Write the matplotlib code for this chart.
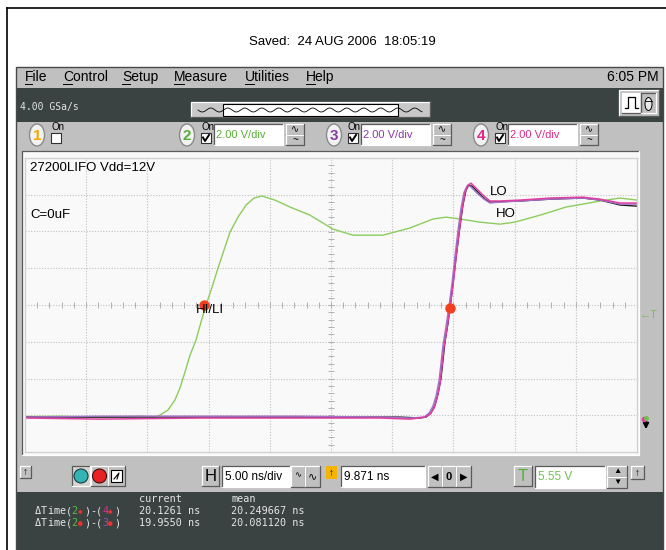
import numpy as np
import matplotlib.pyplot as plt
from matplotlib.patches import Rectangle, Ellipse, Circle

plt.rcParams['font.family'] = ['Liberation Sans', 'DejaVu Sans']
MONO = ['DejaVu Sans Mono', 'DejaVu Sans']

# waveforms: time in ns from left edge of screen (5 ns/div), volts (2 V/div)
hili_t = [0, 2.9, 6.1, 9.4, 10.6, 11.03, 11.68, 12.25, 12.66, 13.07, 13.48, 13.97, 14.38,
          14.79, 15.28, 15.77, 16.26, 16.75, 17.40, 18.06, 18.71, 19.36, 20.42, 21.65,
          23.28, 25.16, 26.80, 29.25, 31.45, 33.33, 34.40, 35.54, 37.17, 38.81, 40.03,
          42.08, 44.20, 46.98, 48.61, 50.0]
hili_v = [0.03, 0.05, -0.02, 0.05, 0.0, 0.11, 0.38, 0.93, 1.58, 2.45, 3.37, 4.19, 5.17,
          6.10, 7.07, 8.11, 9.09, 10.07, 10.88, 11.54, 11.92, 12.03, 11.81, 11.43,
          10.99, 10.23, 9.90, 9.90, 10.29, 10.78, 10.88, 10.78, 10.61, 10.50, 10.61,
          10.99, 11.43, 11.76, 11.92, 11.81]

ref_t = [0, 6.13, 14.30, 22.47, 30.64, 32.27, 32.76, 33.17, 33.50, 33.74, 33.99, 34.15,
         34.31, 34.56, 34.80, 35.05, 35.29, 35.54, 35.78, 36.03, 36.27, 36.52, 37.01,
         37.58, 37.99, 40.44, 42.89, 45.59, 46.98, 48.61, 50.0]
ref_v = [0, 0, 0, 0, 0, -0.05, 0, 0.22, 0.65, 1.25, 2.12, 3.10, 4.08, 5.12, 6.37, 7.73,
         9.09, 10.39, 11.54, 12.35, 12.63, 12.57, 12.24, 11.86, 11.70, 11.76, 11.86,
         11.92, 11.81, 11.54, 11.48]

ch3_t = [0, 6.13, 14.30, 22.47, 29.00, 31.45, 32.60, 33.01, 33.33, 33.58, 33.82, 33.99,
         34.15, 34.40, 34.64, 34.89, 35.13, 35.38, 35.62, 35.87, 36.11, 36.36, 36.93,
         37.50, 37.99, 38.81, 40.44, 42.89, 45.59, 46.98, 48.61, 50.0]
ch3_v = [0, 0.05, 0.05, 0.05, 0, -0.05, 0, 0.22, 0.60, 1.14, 1.96, 2.94, 3.92, 4.95,
         6.04, 7.29, 8.76, 10.18, 11.37, 12.24, 12.57, 12.57, 12.19, 11.86, 11.65,
         11.70, 11.76, 11.86, 11.92, 11.81, 11.59, 11.59]

ch4_t = [0, 6.13, 14.30, 22.47, 29.00, 31.45, 32.68, 33.09, 33.42, 33.66, 33.91, 34.07,
         34.23, 34.48, 34.72, 34.97, 35.21, 35.46, 35.70, 35.95, 36.19, 36.44, 36.85,
         37.42, 37.99, 38.81, 40.44, 42.89, 45.59, 46.98, 48.61, 50.0]
ch4_v = [-0.05, -0.11, -0.05, -0.05, -0.05, -0.11, 0, 0.16, 0.49, 1.03, 1.85, 2.83,
         3.81, 4.84, 5.93, 7.18, 8.65, 10.07, 11.27, 12.24, 12.63, 12.73, 12.46, 12.08,
         11.76, 11.76, 11.81, 11.92, 11.97, 11.86, 11.65, 11.65]

marker_t = [14.62, 34.72]
marker_v = [6.10, 5.93]

menu_items = ['File', 'Control', 'Setup', 'Measure', 'Utilities', 'Help']
menu_x = [25, 63, 122, 174, 245, 306]
menu_ul = [7, 9, 8, 10, 9, 9]

fig = plt.figure(figsize=(6.66, 5.5), dpi=100)
fig.patch.set_facecolor('white')
ui = fig.add_axes([0, 0, 1, 1])
ui.set_xlim(0, 666)
ui.set_ylim(550, 0)
ui.axis('off')


def rect(x0, y0, x1, y1, fc, ec='none', lw=0.8, z=2):
    ui.add_patch(Rectangle((x0, y0), x1 - x0, y1 - y0, facecolor=fc,
                           edgecolor=ec, linewidth=lw, zorder=z))


def bevel(x0, y0, x1, y1, fc='#c0c0c0', raised=True, z=2):
    rect(x0, y0, x1, y1, fc, z=z)
    hi, lo = ('white', '#5a5a5a') if raised else ('#5a5a5a', 'white')
    ui.plot([x0, x0, x1], [y1, y0, y0], color=hi, lw=0.9, zorder=z + 0.1)
    ui.plot([x0, x1, x1], [y1, y1, y0], color=lo, lw=0.9, zorder=z + 0.1)


def label(x, y, s, size=8, color='black', ha='left', **kw):
    ui.text(x, y, s, fontsize=size, color=color, ha=ha, va='center', zorder=5, **kw)


# outer frame and title
ui.plot([7, 7], [550, 7.5], color='black', lw=1.2)
ui.plot([7, 666], [7.5, 7.5], color='black', lw=1.2)
label(342, 42, 'Saved:  24 AUG 2006  18:05:19', size=9.5, ha='center')

# window
rect(16, 67, 663, 550, '#c0c0c0', ec='#484848', lw=1)
for s, x, w in zip(menu_items, menu_x, menu_ul):
    label(x, 77, s, size=10)
    ui.plot([x, x + w], [84, 84], color='black', lw=0.7, zorder=5)
label(659, 77, '6:05 PM', size=10, ha='right')

# dark toolbar
rect(17, 88, 663, 122, '#3a4242')
ui.text(20, 107, '4.00 GSa/s', fontsize=7, family=MONO, color='#e6e6e6', va='center')
bevel(191, 102, 430, 117, fc='#c8c8c8')
rect(223, 103.5, 398, 115.5, 'white', ec='black', lw=0.8, z=3)
xs = np.linspace(198, 422, 400)
ui.plot(xs, 110 + 2 * np.sin((xs - 198) / 17.0 * 2 * np.pi), color='black', lw=0.6, zorder=4)
bevel(619, 90, 659, 116)
bevel(622, 93, 641, 113, fc='white')
ui.plot([625, 628, 628, 635, 635, 638], [108, 108, 97, 97, 108, 108], color='black', lw=0.9, zorder=5)
bevel(641, 93, 656, 113, raised=False)
ui.add_patch(Ellipse((648.5, 104), 7, 13, facecolor='#e8e8e8', edgecolor='black', lw=0.7, zorder=5))
ui.plot([645, 652], [101, 101], color='black', lw=0.6, zorder=6)

# channel bar
chan = [(37, '1', '#f0a800', False), (187, '2', '#58b038', True),
        (334, '3', '#8838a8', True), (481, '4', '#e02888', True)]
for cx, num, col, on in chan:
    ui.add_patch(Ellipse((cx, 135), 15, 22, facecolor='#f2f2f2', edgecolor='#8a8a8a', lw=1, zorder=3))
    ui.text(cx, 135.5, num, fontsize=11, fontweight='bold', color=col, ha='center', va='center', zorder=5)
    label(cx + 14, 127, 'On', size=7)
    rect(cx + 14, 133, cx + 24, 143, 'white', ec='#303030', lw=0.8, z=3)
    if on:
        ui.plot([cx + 16, cx + 18, cx + 22], [137.5, 141, 135], color='black', lw=1.4, zorder=5)
        bevel(cx + 27, 124, cx + 96, 145, fc='white', raised=False)
        label(cx + 29, 134.5, '2.00 V/div', size=8, color=col)
        bevel(cx + 99, 124, cx + 117, 134.5)
        bevel(cx + 99, 134.5, cx + 117, 145)
        label(cx + 108, 129.5, '∿', size=7, ha='center')
        label(cx + 108, 140, '~', size=7, ha='center')

# plot panel
bevel(22, 151, 639, 455, fc='#f8f8f8', raised=False)

# bottom control bar
bevel(20, 466, 31, 478)
label(25.5, 472, '↑', size=7, ha='center', fontweight='bold')
bevel(72, 466, 90, 486, fc='#d4d4d4', raised=False)
ui.add_patch(Circle((81, 476), 7, facecolor='#33b3b3', edgecolor='#1c3a3a', lw=0.8, zorder=4))
bevel(91, 466, 108, 486)
ui.add_patch(Circle((99.5, 476), 7, facecolor='#e82222', edgecolor='#401010', lw=0.8, zorder=4))
bevel(108, 466, 125, 486)
rect(111, 470, 122, 482, 'white', ec='black', lw=0.8, z=4)
ui.plot([114, 119, 117], [479, 473, 479], color='black', lw=0.8, zorder=5)
bevel(202, 466, 219, 486)
label(210.5, 476.5, 'H', size=12, ha='center')
bevel(222, 466, 290, 487, fc='white', raised=False)
label(225, 476.5, '5.00 ns/div', size=8.5)
bevel(291, 466, 305, 487)
bevel(305, 466, 320, 487)
label(298, 476, '∿', size=6, ha='center')
label(312.5, 476, '∿', size=8, ha='center')
rect(326, 466, 337, 479, '#f5b400')
label(331.5, 472.5, '↑', size=7, ha='center', fontweight='bold')
bevel(341, 466, 425, 487, fc='white', raised=False)
label(344, 476.5, '9.871 ns', size=8.5)
bevel(428, 466, 442, 487)
bevel(442, 466, 456, 487)
bevel(456, 466, 471, 487)
label(435, 476.5, '◀', size=7, ha='center')
label(449, 476.5, '0', size=8, ha='center', fontweight='bold')
label(463.5, 476.5, '▶', size=7, ha='center')
bevel(514, 466, 532, 486)
label(523, 476.5, 'T', size=12, color='#58b038', ha='center')
bevel(535, 466, 605, 488, fc='white', raised=False)
label(538, 477, '5.55 V', size=8.5, color='#70c050')
bevel(607, 466, 627, 477)
bevel(607, 477, 627, 488)
label(617, 471.5, '▲', size=6, ha='center')
label(617, 482.5, '▼', size=6, ha='center')
bevel(631, 466, 644, 479)
label(637.5, 472.5, '↑', size=7, ha='center', fontweight='bold')

# measurement area
rect(17, 492, 663, 550, '#3a4242')
CW = 6.1
ui.text(139, 499, 'current', fontsize=7.3, family=MONO, color='#e6e6e6', va='center', zorder=5)
ui.text(231, 499, 'mean', fontsize=7.3, family=MONO, color='#e6e6e6', va='center', zorder=5)
rows = [(511, [('ΔTime(', '#e6e6e6'), ('2', '#58c040'), ('◆', '#f03030'), (')-(', '#e6e6e6'),
               ('4', '#e03090'), ('◆', '#f03030'), (')', '#e6e6e6')], '20.1261 ns', '20.249667 ns'),
        (523, [('ΔTime(', '#e6e6e6'), ('2', '#58c040'), ('●', '#f03030'), (')-(', '#e6e6e6'),
               ('3', '#9050c0'), ('●', '#f03030'), (')', '#e6e6e6')], '19.9550 ns', '20.081120 ns')]
for y, parts, cur, mean in rows:
    x = 35
    for s, c in parts:
        for ch in s:
            ui.text(x, y, ch, fontsize=7.3 if ch not in '◆●' else 5.5, family=MONO, color=c,
                    va='center', zorder=5)
            x += CW
    ui.text(139, y, cur, fontsize=7.3, family=MONO, color='#e6e6e6', va='center', zorder=5)
    ui.text(231, y, mean, fontsize=7.3, family=MONO, color='#e6e6e6', va='center', zorder=5)

# waveform screen
ax = fig.add_axes([25 / 666, 98 / 550, 612 / 666, 294 / 550])
ax.set_zorder(3)
ax.set_facecolor('#f9f9f9')
ax.set_xlim(0, 50)
ax.set_ylim(-1.9, 14.1)
ax.set_xticks(np.arange(0, 50.1, 5))
ax.set_yticks(np.arange(-1.9, 14.2, 2))
ax.tick_params(length=0, labelbottom=False, labelleft=False)
ax.grid(color='#c0c0c0', linestyle=(0, (1, 1.5)), lw=0.8)
for sp in ax.spines.values():
    sp.set_color('#d0d0d0')
    sp.set_linewidth(0.9)
ax.vlines(np.arange(1, 50, 1), 6.1 - 0.14, 6.1 + 0.14, color='#b0b0b0', lw=0.7)
ax.hlines(np.arange(-1.9, 14.1, 0.4), 25 - 0.22, 25 + 0.22, color='#b0b0b0', lw=0.7)

ax.plot(hili_t, hili_v, color='#8ccc5c', lw=1.0)
ax.plot(ref_t, ref_v, color='#202020', lw=1.0)
ax.plot(ch3_t, ch3_v, color='#a070cc', lw=1.0)
ax.plot(ch4_t, ch4_v, color='#e040a0', lw=1.1)
ax.plot(marker_t, marker_v, 'o', color='#f04020', ms=7.5, mec='none')

tr = ui.transData
ax.text(30, 168, '27200LIFO Vdd=12V', fontsize=9.5, va='center', transform=tr)
ax.text(30, 215, 'C=0uF', fontsize=9.5, va='center', transform=tr)
ax.text(196, 310, 'HI/LI', fontsize=9.5, va='center', transform=tr)
ax.text(490, 192, 'LO', fontsize=9.5, va='center', transform=tr)
ax.text(496, 214, 'HO', fontsize=9.5, va='center', transform=tr)

# screen-edge markers
label(640, 315, '←T', size=8, color='#70c050')
ui.annotate('', xy=(646, 432), xytext=(646, 418), zorder=5,
            arrowprops=dict(arrowstyle='-|>', color='black', lw=1.4, mutation_scale=8))
ui.plot([643.5], [419], 'o', color='#e040a0', ms=3, zorder=6)
ui.plot([645.5], [417.5], 'o', color='#70c050', ms=2.5, zorder=6)

fig.savefig('out.png', dpi=100)
